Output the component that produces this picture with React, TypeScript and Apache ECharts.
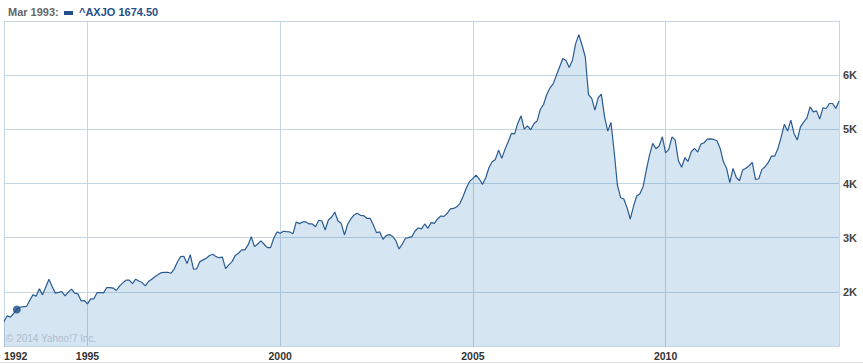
import React, { useEffect, useRef } from "react";
import * as echarts from "echarts";

// Monthly closes, Nov 1992 .. Jul 2014
const startYear = 1992;
const startMonth = 11;
const values: number[] = [
  1452, 1557, 1533, 1600, 1674.5, 1715, 1726, 1729, 1840, 1944,
  1920, 2055, 1944, 2090, 2234, 2100, 1976, 1990, 2006, 1926,
  1995, 2049, 1976, 1963, 1834, 1840, 1779, 1871, 1871, 1987,
  1984, 1981, 2079, 2079, 2070, 2024, 2110, 2165, 2215, 2215,
  2153, 2234, 2200, 2171, 2110, 2190, 2234, 2280, 2320, 2356,
  2360, 2362, 2344, 2420, 2550, 2651, 2657, 2521, 2687, 2418,
  2424, 2558, 2590, 2620, 2670, 2695, 2650, 2630, 2640, 2430,
  2497, 2558, 2669, 2713, 2774, 2774, 2866, 3019, 2835, 2884,
  2940, 2879, 2816, 2816, 2989, 3106, 3081, 3118, 3111, 3106,
  3074, 3290, 3259, 3290, 3290, 3253, 3253, 3203, 3321, 3308,
  3142, 3327, 3376, 3474, 3308, 3265, 3050, 3247, 3345, 3419,
  3450, 3413, 3406, 3358, 3358, 3235, 3093, 3106, 2971, 3037,
  3056, 3026, 2945, 2792, 2879, 2989, 3001, 3019, 3124, 3179,
  3161, 3253, 3173, 3277, 3265, 3345, 3400, 3394, 3450, 3530,
  3540, 3570, 3634, 3770, 3920, 4040, 4095, 4156, 4082, 3984,
  4106, 4291, 4401, 4445, 4617, 4464, 4630, 4770, 4924, 4917,
  5114, 5249, 5004, 5065, 4991, 5102, 5157, 5367, 5459, 5643,
  5765, 5839, 5999, 6152, 6307, 6270, 6141, 6276, 6583, 6749,
  6552, 6336, 5643, 5570, 5354, 5581, 5649, 5231, 4967, 5127,
  4586, 3972, 3738, 3714, 3554, 3345, 3572, 3769, 3812, 3941,
  4248, 4525, 4740, 4641, 4691, 4862, 4567, 4630, 4862, 4801,
  4420, 4298, 4475, 4408, 4586, 4648, 4580, 4727, 4752, 4819,
  4825, 4813, 4788, 4648, 4401, 4280, 4014, 4280, 4114, 4051,
  4248, 4280, 4328, 4390, 4077, 4088, 4261, 4309, 4390, 4506,
  4506, 4648, 4862, 5096, 4967, 5170, 4924, 4801, 5046, 5133,
  5207, 5415, 5323, 5341, 5188, 5397, 5385, 5477, 5477, 5385,
  5525,
];

const categories: string[] = values.map((_, i) => {
  const m = startMonth - 1 + i;
  const y = startYear + Math.floor(m / 12);
  const mm = (m % 12) + 1;
  return `${y}-${String(mm).padStart(2, "0")}`;
});

const firstTickLabel = "1992";
const gridYears = ["1995", "2000", "2005", "2010"];
const yMin = 1000;
const yMax = 7000;
const yStep = 1000;

const markerIndex = 4;
const legendDate = "Mar 1993:";
const seriesName = "^AXJO";
const copyright = "© 2014 Yahoo!7 Inc.";

const gridColor = "#c6d5e2";
const FONT = "'Liberation Sans', Arial, sans-serif";

const isYearStart = (val: string) =>
  val.endsWith("-01") && gridYears.includes(val.slice(0, 4));

export default function App() {
  const ref = useRef<HTMLDivElement>(null);

  useEffect(() => {
    if (!ref.current) return;
    const chart = echarts.init(ref.current, undefined, { renderer: "svg" });
    const option: any = {
      animation: false,
      grid: { left: 4, right: 24, top: 21, bottom: 18, containLabel: false },
      xAxis: {
        type: "category",
        data: categories,
        boundaryGap: false,
        axisLine: { show: true, lineStyle: { color: gridColor, width: 1 } },
        axisTick: { show: false },
        axisLabel: {
          interval: (idx: number, val: string) => idx === 0 || isYearStart(val),
          formatter: (val: string, idx: number) => (idx === 0 ? firstTickLabel : val.slice(0, 4)),
          color: "#333",
          fontWeight: "bold",
          fontSize: 10.5,
          fontFamily: FONT,
          margin: 4,
          alignMinLabel: "left",
          padding: [0, 0, 0, 0],
        },
        splitLine: {
          show: true,
          interval: (idx: number, val: string) => idx === 0 || isYearStart(val),
          lineStyle: { color: gridColor, width: 1 },
        },
      },
      yAxis: {
        type: "value",
        position: "right",
        min: yMin,
        max: yMax,
        interval: yStep,
        axisLine: { show: true, lineStyle: { color: gridColor, width: 1 } },
        axisTick: { show: false },
        axisLabel: {
          formatter: (v: number) => `${v / 1000}K`,
          showMinLabel: false,
          showMaxLabel: false,
          color: "#444",
          fontWeight: "bold",
          fontSize: 11,
          fontFamily: FONT,
          margin: 4,
        },
        splitLine: { show: true, lineStyle: { color: gridColor, width: 1 } },
      },
      series: [
        {
          type: "line",
          name: seriesName,
          data: values,
          showSymbol: false,
          symbol: "none",
          lineStyle: { color: "#2a5b92", width: 1.2 },
          areaStyle: { color: "rgba(47,125,190,0.2)", opacity: 1 },
          z: 2,
        },
        {
          type: "scatter",
          data: [[markerIndex, values[markerIndex]]],
          symbolSize: 8,
          itemStyle: { color: "#1d4e84" },
          z: 3,
        },
      ],
      graphic: [
        {
          type: "text",
          left: 8,
          top: 6,
          style: {
            text: legendDate,
            fill: "#666",
            font: `bold 11px ${FONT}`,
          },
        },
        {
          type: "rect",
          shape: { x: 64, y: 11, width: 9, height: 4 },
          style: { fill: "#1f5089" },
        },
        {
          type: "text",
          left: 79,
          top: 6,
          style: {
            text: `${seriesName} ${values[markerIndex].toFixed(2)}`,
            fill: "#1f5089",
            font: `bold 11px ${FONT}`,
          },
        },
        {
          type: "text",
          left: 6,
          top: 333,
          z: 10,
          style: {
            text: copyright,
            fill: "#b0bdca",
            font: `10px ${FONT}`,
          },
        },
        {
          type: "line",
          shape: { x1: 0, y1: 362.5, x2: 863, y2: 362.5 },
          style: { stroke: "#dddddd", lineWidth: 1 },
        },
      ],
    };
    chart.setOption(option);
    return () => chart.dispose();
  }, []);

  return (
    <div
      ref={ref}
      style={{ position: "absolute", left: 0, top: 0, width: 863, height: 364 }}
    />
  );
}
